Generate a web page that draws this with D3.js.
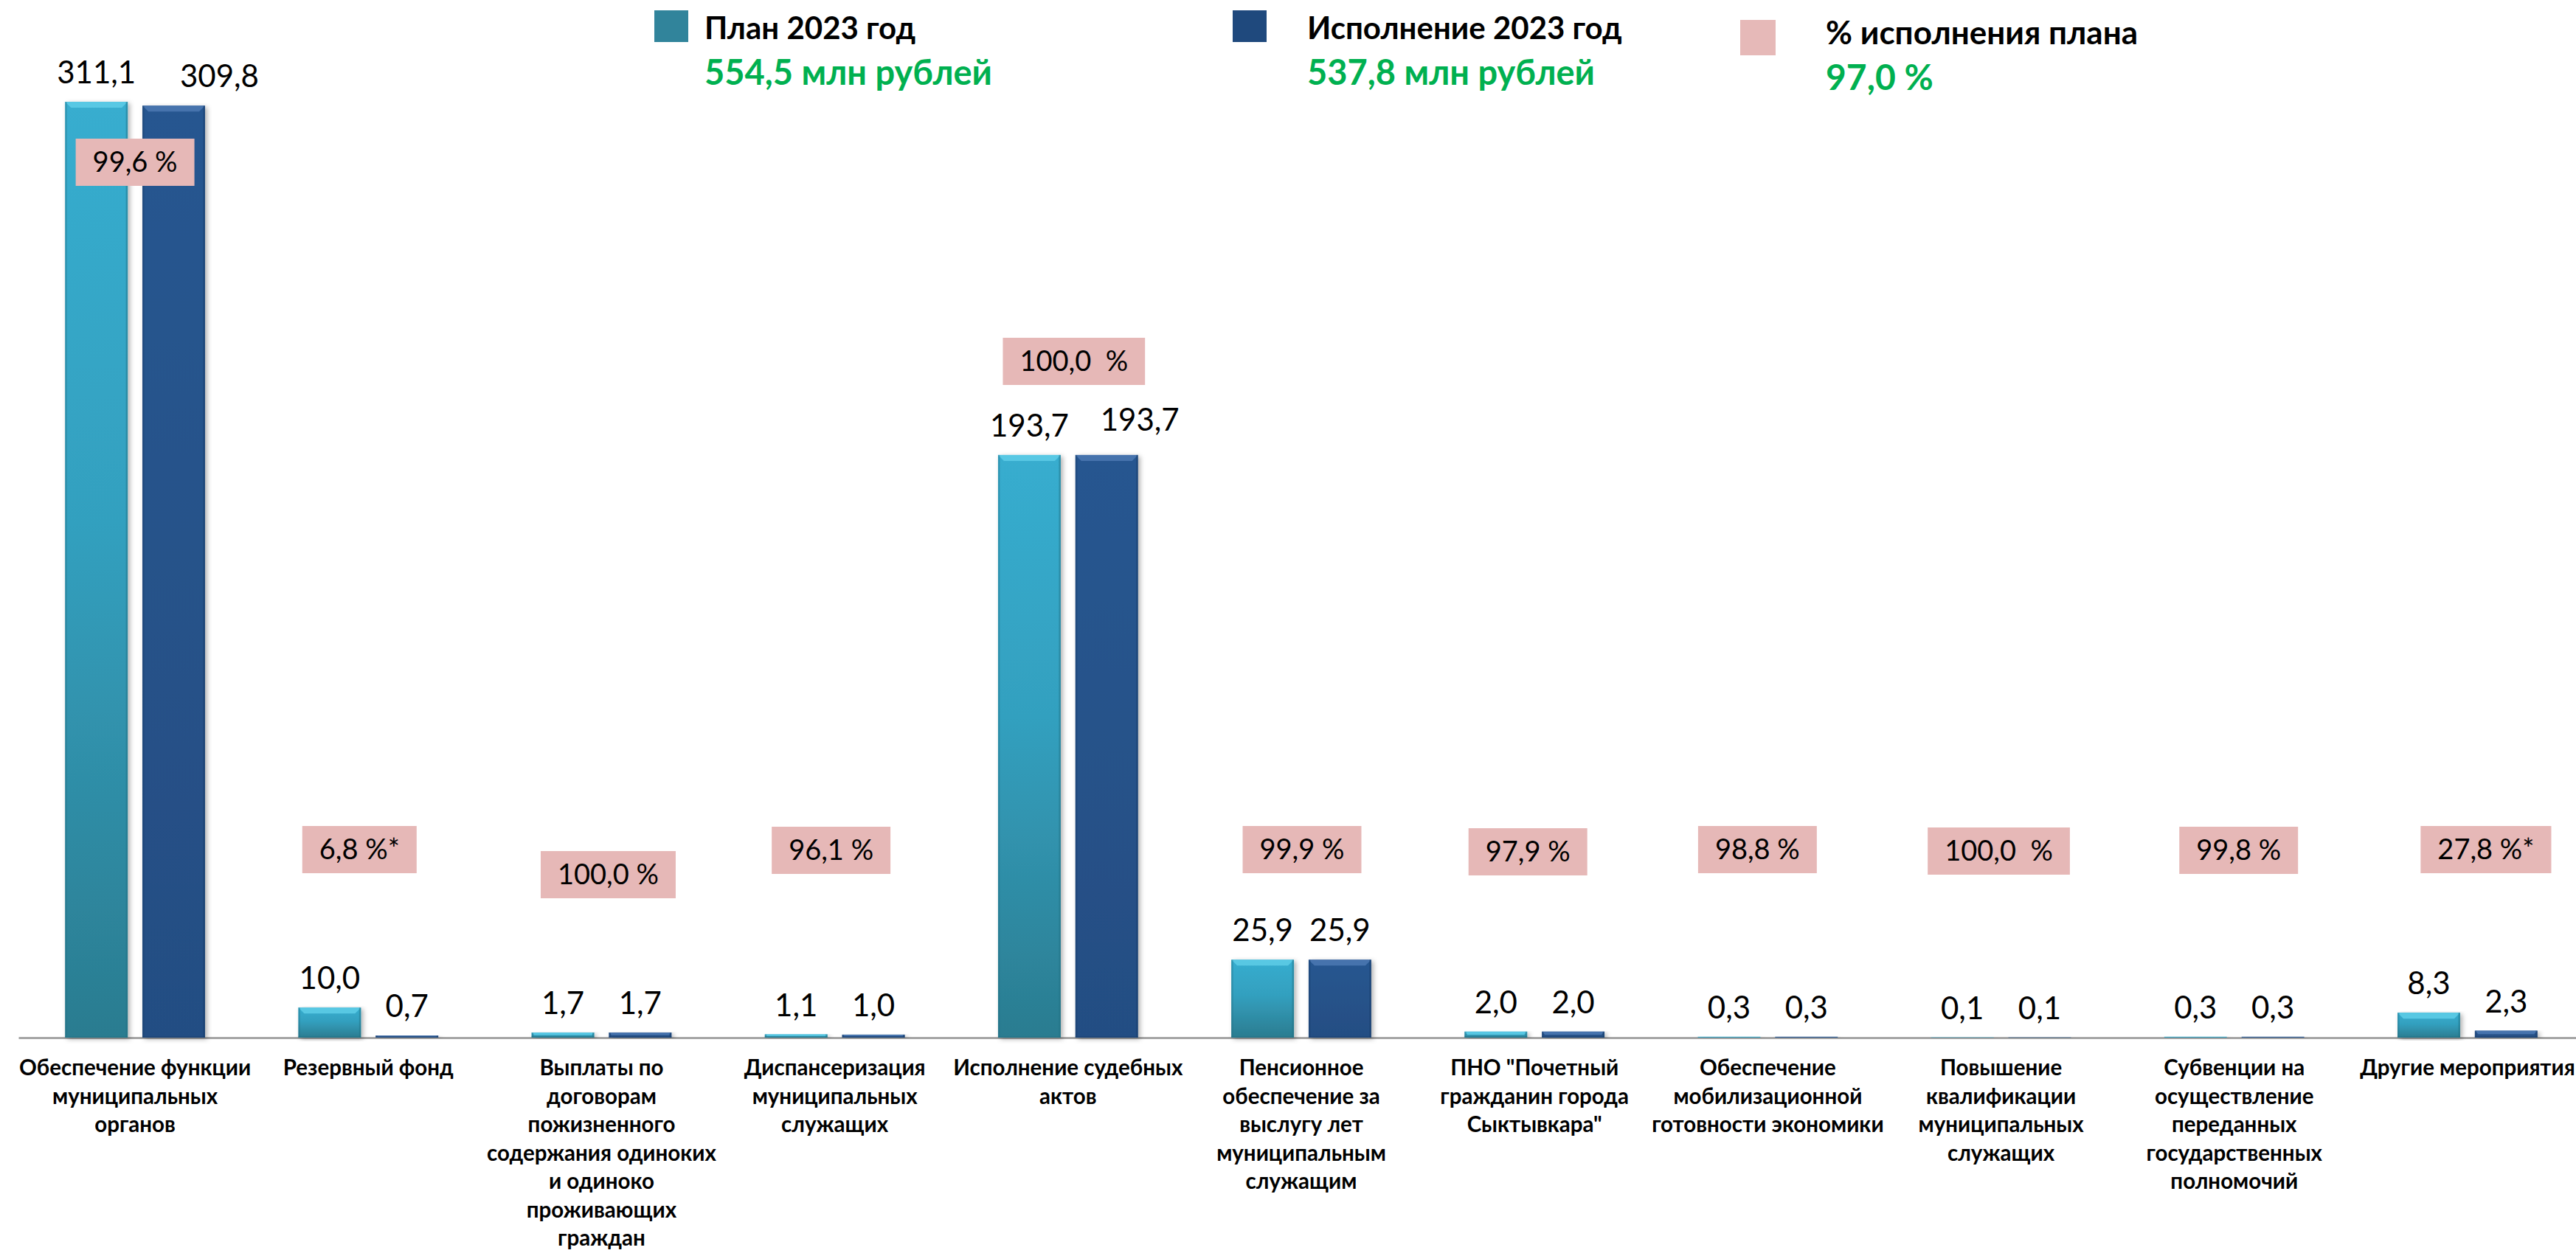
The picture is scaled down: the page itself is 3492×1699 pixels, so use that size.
<!DOCTYPE html>
<html><head><meta charset="utf-8">
<script src="https://cdn.jsdelivr.net/npm/d3@7"></script>
<style>
body{margin:0;background:#fff}
svg{display:block;background:#fff}
text{font-family:Lato,'Liberation Sans',sans-serif}
</style>
</head><body><svg id="chart"></svg>
<script>
// ---------- data ----------
const categories = [
  ["Обеспечение функции","муниципальных","органов"],
  ["Резервный фонд"],
  ["Выплаты по","договорам","пожизненного","содержания одиноких","и одиноко","проживающих","граждан"],
  ["Диспансеризация","муниципальных","служащих"],
  ["Исполнение судебных","актов"],
  ["Пенсионное","обеспечение за","выслугу лет","муниципальным","служащим"],
  ["ПНО \"Почетный","гражданин города","Сыктывкара\""],
  ["Обеспечение","мобилизационной","готовности экономики"],
  ["Повышение","квалификации","муниципальных","служащих"],
  ["Субвенции на","осуществление","переданных","государственных","полномочий"],
  ["Другие мероприятия"]
];
const planValues = [311.1, 10.0, 1.7, 1.1, 193.7, 25.9, 2.0, 0.3, 0.1, 0.3, 8.3];
const factValues = [309.8, 0.7, 1.7, 1.0, 193.7, 25.9, 2.0, 0.3, 0.1, 0.3, 2.3];
const pctLabels = ["99,6 %","6,8 %*","100,0 %","96,1 %","100,0  %","99,9 %","97,9 %","98,8 %","100,0  %","99,8 %","27,8 %*"];
const seriesKeys = ["plan","fact"];
const legendTitles = ["План 2023 год","Исполнение 2023 год","% исполнения плана"];
const legendTotals = ["554,5 млн рублей","537,8 млн рублей","97,0 %"];

// ---------- layout (positions only) ----------
const W = 3492, H = 1699;
const pctBoxCY = [220, 1152, 1186, 1153, 490, 1152, 1155, 1152, 1154, 1153, 1152];
const pctBoxDX = [0, -12, 9, -5, 8, 1, -9, -14, -3, 6, 25];
const valueNudge = {"0-fact": [62, 0], "4-fact": [45, -8]};

const svg = d3.select("#chart").attr("width", W).attr("height", H);
const defs = svg.append("defs");

function grad(id, stops){
  const g = defs.append("linearGradient").attr("id", id).attr("x1",0).attr("y1",0).attr("x2",0).attr("y2",1);
  stops.forEach(s => g.append("stop").attr("offset", s[0]).attr("stop-color", s[1]));
}
grad("gPlan", [[0,"#37adcf"],[0.45,"#33a0bf"],[1,"#2b7c90"]]);
grad("gFact", [[0,"#285690"],[1,"#244e83"]]);
const f = defs.append("filter").attr("id","shadow").attr("x","-20%").attr("y","-5%").attr("width","140%").attr("height","115%");
f.append("feDropShadow").attr("dx",3).attr("dy",2).attr("stdDeviation",3).attr("flood-color","#000").attr("flood-opacity",0.3);

const styles = {
  plan: {fill:"url(#gPlan)", bevel:"#5ccbe6", edge:"#1f6e80"},
  fact: {fill:"url(#gFact)", bevel:"#4a77b0", edge:"#173a66"}
};

const n = categories.length;
const x0 = d3.scaleBand().domain(d3.range(n)).range([25, 3503]).paddingInner(0.4).paddingOuter(0.2);
const x1 = d3.scaleBand().domain(seriesKeys).range([0, x0.bandwidth()]).paddingInner(0.19);
const y = d3.scaleLinear().domain([0, 311.1]).range([1407, 138]);
const fmt = v => d3.format(".1f")(v).replace(".", ",");

// baseline axis
const axis = d3.axisBottom(x0).tickSize(0).tickSizeOuter(0).tickFormat("");
const ax = svg.append("g").attr("transform", `translate(0,${y(0)})`).call(axis);
ax.select(".domain").attr("stroke", "#a6a6a6").attr("stroke-width", 3);

// bars
const rows = d3.range(n).map(i => ({i, plan: planValues[i], fact: factValues[i]}));
const groups = svg.append("g").selectAll("g").data(rows).join("g")
  .attr("transform", d => `translate(${x0(d.i)},0)`);

groups.each(function(d){
  const g = d3.select(this);
  seriesKeys.forEach(k => {
    const v = d[k];
    const bx = x1(k), bw = x1.bandwidth();
    const top = y(v), h = y(0) - y(v);
    const st = styles[k];
    const bg = g.append("g");
    bg.append("rect").attr("x", bx).attr("y", top).attr("width", bw).attr("height", Math.max(h, 0.5))
      .attr("fill", st.fill).attr("filter", "url(#shadow)");
    const b = Math.min(8, h / 2);
    if (h > 1.5) {
      bg.append("polygon")
        .attr("points", [[bx, top],[bx+bw, top],[bx+bw-b, top+b],[bx+b, top+b]].map(p=>p.join(",")).join(" "))
        .attr("fill", st.bevel).attr("opacity", 0.9);
      bg.append("rect").attr("x", bx).attr("y", top).attr("width", 2.5).attr("height", h).attr("fill", st.edge).attr("opacity", 0.35);
      bg.append("rect").attr("x", bx+bw-2.5).attr("y", top).attr("width", 2.5).attr("height", h).attr("fill", st.edge).attr("opacity", 0.45);
      bg.append("rect").attr("x", bx).attr("y", top+h-2).attr("width", bw).attr("height", 2).attr("fill", st.edge).attr("opacity", 0.3);
    }
    const nudge = valueNudge[d.i + "-" + k] || [0, 0];
    g.append("text")
      .attr("x", bx + bw / 2 + nudge[0]).attr("y", top - 25 + nudge[1])
      .attr("text-anchor", "middle").attr("font-size", 42).attr("fill", "#000")
      .text(fmt(v));
  });
});

// percent boxes
const pg = svg.append("g").selectAll("g").data(pctLabels).join("g");
pg.each(function(t, i){
  const g = d3.select(this);
  const cx = x0(i) + x0.bandwidth() / 2 + pctBoxDX[i];
  const cy = pctBoxCY[i];
  const rect = g.append("rect").attr("fill", "#e6b8b7");
  const tx = g.append("text").attr("x", cx).attr("y", cy + 13).attr("text-anchor", "middle")
    .attr("font-size", 38).attr("fill", "#000").style("white-space", "pre").text(t);
  const w = tx.node().getComputedTextLength() + 46;
  rect.attr("x", cx - w / 2).attr("y", cy - 32).attr("width", w).attr("height", 64);
});

// category labels
const cl = svg.append("g").selectAll("text").data(categories).join("text")
  .attr("text-anchor", "middle").attr("font-size", 29.5).attr("font-weight", "bold").attr("fill", "#000")
  .attr("transform", (d, i) => `translate(${x0(i) + x0.bandwidth() / 2},1458)`);
cl.selectAll("tspan").data(d => d).join("tspan")
  .attr("x", 0).attr("y", (d, j) => j * 38.5).text(d => d);

// legend
const legendPos = [
  {sx: 887, sy: 14, sw: 46, sh: 43, tx: 955, ty: 53, gy: 115, fs: 42, gfs: 47, color: "#31849b"},
  {sx: 1671, sy: 14, sw: 46, sh: 43, tx: 1772, ty: 53, gy: 115, fs: 42, gfs: 47, color: "#1f497d"},
  {sx: 2359, sy: 27, sw: 48, sh: 48, tx: 2475, ty: 60, gy: 122, fs: 44, gfs: 48, color: "#e6b9b8"}
];
const lg = svg.append("g").selectAll("g").data(legendTitles).join("g");
lg.each(function(t, i){
  const p = legendPos[i];
  const g = d3.select(this);
  g.append("rect").attr("x", p.sx).attr("y", p.sy).attr("width", p.sw).attr("height", p.sh).attr("fill", p.color);
  g.append("text").attr("x", p.tx).attr("y", p.ty).attr("font-size", p.fs).attr("font-weight", "bold").attr("fill", "#000").text(t);
  g.append("text").attr("x", p.tx).attr("y", p.gy).attr("font-size", p.gfs).attr("font-weight", "bold").attr("fill", "#00b050").text(legendTotals[i]);
});
</script>
</body></html>
